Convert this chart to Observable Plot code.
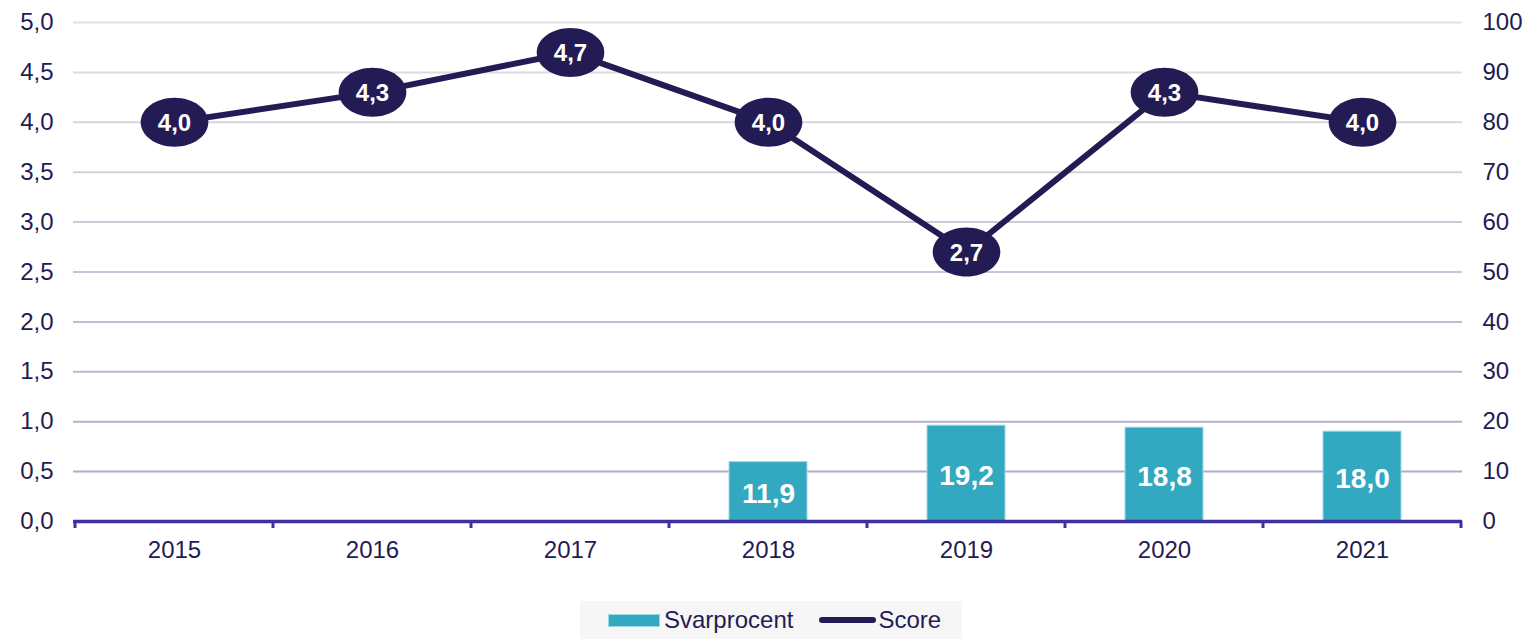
<!DOCTYPE html>
<html>
<head>
<meta charset="utf-8">
<script src="https://cdn.jsdelivr.net/npm/d3@7"></script>
<script src="https://cdn.jsdelivr.net/npm/@observablehq/plot@0.6"></script>
<style>
  body { margin: 0; background: #fff; font-family: "Liberation Sans", Arial, sans-serif; }
  #chart { position: absolute; left: 0; top: 0; }
  #legend { position: absolute; left: 580px; top: 601px; width: 382px; height: 38px; background: #f6f6f6;
    display: flex; align-items: center; font-size: 24px; color: #231c54; }
  .sw-bar { display: inline-block; width: 50px; height: 11px; background: #33a9c1; border: 1px solid #9ed8e3; margin-left: 28px; margin-right: 4px; }
  .sw-line { display: inline-block; width: 57px; height: 6px; border-radius: 3px; background: #231c54; margin-left: 26px; margin-right: 2px; }
</style>
</head>
<body>
<div id="chart"></div>
<div id="legend"><span class="sw-bar"></span><span>Svarprocent</span><span class="sw-line"></span><span>Score</span></div>
<script>
const years = ["2015", "2016", "2017", "2018", "2019", "2020", "2021"];
const score = [4.0, 4.3, 4.7, 4.0, 2.7, 4.3, 4.0];
const svarYears = ["2018", "2019", "2020", "2021"];
const svarprocent = [11.9, 19.2, 18.8, 18.0];
const leftTicks = [0, 0.5, 1, 1.5, 2, 2.5, 3, 3.5, 4, 4.5, 5];
const rightTicks = [0, 10, 20, 30, 40, 50, 60, 70, 80, 90, 100];

const fmt = v => v.toFixed(1).replace(".", ",");
const scoreData = years.map((y, i) => ({year: y, score: score[i]}));
const svarData = svarYears.map((y, i) => ({year: y, svar: svarprocent[i], yv: svarprocent[i] / 20}));

const ellipse = {
  draw(ctx, size) {
    const r = Math.sqrt(size / Math.PI);
    const rx = r * 1.38, ry = r;
    const k = 0.5522847498;
    ctx.moveTo(rx, 0);
    ctx.bezierCurveTo(rx, ry * k, rx * k, ry, 0, ry);
    ctx.bezierCurveTo(-rx * k, ry, -rx, ry * k, -rx, 0);
    ctx.bezierCurveTo(-rx, -ry * k, -rx * k, -ry, 0, -ry);
    ctx.bezierCurveTo(rx * k, -ry, rx, -ry * k, rx, 0);
    ctx.closePath();
  }
};

const gridColor = d3.interpolateRgb("#aaa5c6", "#e2e2e5");
const navy = "#231c54";

const chart = Plot.plot({
  width: 1531,
  height: 595,
  marginLeft: 73,
  marginRight: 69,
  marginTop: 22,
  marginBottom: 74,
  style: {fontFamily: "'Liberation Sans', Arial, sans-serif", fontSize: "24px", color: navy, background: "transparent"},
  x: {domain: years, padding: 0, label: null},
  y: {domain: [0, 5], label: null},
  marks: [
    Plot.ruleY(leftTicks.filter(d => d > 0), {stroke: d => gridColor(d / 5), strokeWidth: 2}),
    Plot.axisY(leftTicks, {anchor: "left", tickSize: 0, tickPadding: 20, tickFormat: fmt, fontSize: 24, fill: navy, label: null}),
    Plot.axisY(leftTicks, {anchor: "right", tickSize: 0, tickPadding: 20, textAnchor: "start", tickFormat: (d, i) => String(rightTicks[i]), fontSize: 24, fill: navy, label: null}),
    Plot.barY(svarData, {x: "year", y: "yv", fill: "#33a9c1", stroke: "#9ed8e3", strokeWidth: 1, insetLeft: 60, insetRight: 60}),
    Plot.text(svarData, {x: "year", y: d => d.yv / 2, text: d => fmt(d.svar), fill: "white", fontWeight: "bold", fontSize: 28, dy: 2}),
    Plot.ruleY([0], {stroke: "#3d31a0", strokeWidth: 3.5}),
    Plot.axisX({tickSize: 0, tickPadding: 19, fontSize: 24, fill: navy, label: null}),
    Plot.line(scoreData, {x: "year", y: "score", stroke: navy, strokeWidth: 6}),
    Plot.dot(scoreData, {x: "year", y: "score", symbol: ellipse, r: 24.5, fill: navy, stroke: "none"}),
    Plot.text(scoreData, {x: "year", y: "score", text: d => fmt(d.score), fill: "white", fontWeight: "bold", fontSize: 24, dy: 1})
  ]
});

// band boundary tick marks on the baseline, drawn from the x scale
const xs = chart.scale("x");
const ys = chart.scale("y");
const svg = d3.select(chart);
const boundaries = years.map(y => xs.apply(y)).concat([xs.apply(years[years.length - 1]) + xs.bandwidth]);
svg.append("g").selectAll("line").data(boundaries).join("line")
  .attr("x1", d => d).attr("x2", d => d)
  .attr("y1", ys.apply(0)).attr("y2", ys.apply(0) + 7)
  .attr("stroke", "#3d31a0").attr("stroke-width", 3);

document.getElementById("chart").appendChild(chart);
</script>
</body>
</html>
